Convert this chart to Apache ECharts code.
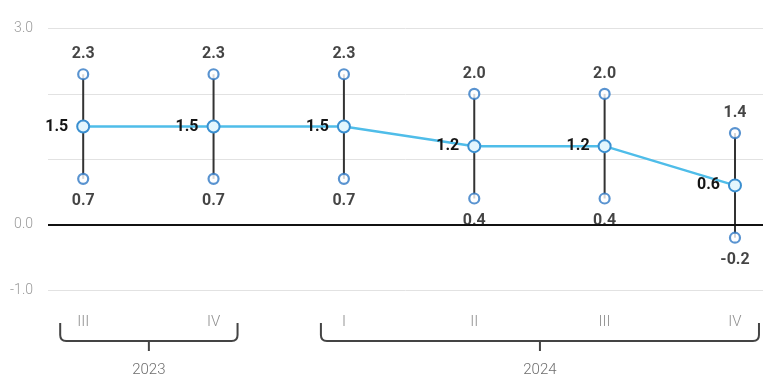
<!DOCTYPE html>
<html>
<head>
<meta charset="utf-8">
<script src="https://cdn.jsdelivr.net/npm/echarts@6/dist/echarts.min.js"></script>
<style>
  html, body { margin: 0; padding: 0; background: #fff; }
  #chart { width: 763px; height: 381px; }
</style>
</head>
<body>
<div id="chart"></div>
<script>
// data
const quarters = ['III', 'IV', 'I', 'II', 'III', 'IV'];
const centerValues = [1.5, 1.5, 1.5, 1.2, 1.2, 0.6];
const highValues = [2.3, 2.3, 2.3, 2.0, 2.0, 1.4];
const lowValues = [0.7, 0.7, 0.7, 0.4, 0.4, -0.2];
const years = ['2023', '2024'];
const yearFirstQuarter = [0, 2];
const yearLastQuarter = [1, 5];
const yTicksShown = [3, 0, -1];

const yMin = -1, yMax = 3;
const chart = echarts.init(document.getElementById('chart'));

const idx = quarters.map((q, i) => i);
const labelStyle = {
    show: true,
    fontFamily: 'Roboto',
    fontWeight: 'bold',
    fontSize: 16,
    color: '#151515',
    formatter: p => p.value[1].toFixed(1)
};
const markerStyle = {
    color: '#ffffff',
    borderColor: '#2f78c4',
    borderWidth: 2.2
};

const option = {
    animation: false,
    backgroundColor: '#fff',
    grid: {left: 48, right: 0, top: 28.5, bottom: 91},
    xAxis: {
        type: 'value',
        min: -0.27,
        max: 5.215,
        show: false
    },
    yAxis: {
        type: 'value',
        min: yMin,
        max: yMax,
        interval: 1,
        axisLine: {show: false},
        axisTick: {show: false},
        splitLine: {lineStyle: {color: '#e2e2e2', width: 1}},
        axisLabel: {
            margin: 15,
            color: '#9a9a9a',
            fontFamily: 'Roboto',
            fontWeight: 300,
            fontSize: 14,
            formatter: v => yTicksShown.includes(v) ? v.toFixed(1) : ''
        }
    },
    series: [
        // error bars
        {
            type: 'custom',
            z: 2,
            silent: true,
            encode: {x: 0, y: [1, 2]},
            data: idx.map(i => [i, lowValues[i], highValues[i]]),
            renderItem: function (params, api) {
                const a = api.coord([api.value(0), api.value(1)]);
                const b = api.coord([api.value(0), api.value(2)]);
                return {
                    type: 'line',
                    shape: {x1: a[0], y1: a[1], x2: b[0], y2: b[1]},
                    style: {stroke: '#333', lineWidth: 2}
                };
            }
        },
        // main line
        {
            type: 'line',
            z: 4,
            data: idx.map(i => [i, centerValues[i]]),
            symbol: 'circle',
            symbolSize: 12,
            lineStyle: {color: '#4fbde9', width: 2.5},
            itemStyle: {color: '#e3f6fd', borderColor: '#3a8fd0', borderWidth: 2},
            label: Object.assign({}, labelStyle, {position: 'left', distance: 8}),
            markLine: {
                silent: true,
                symbol: 'none',
                label: {show: false},
                lineStyle: {color: '#111', width: 2, type: 'solid'},
                data: [{yAxis: 0}]
            }
        },
        // high markers
        {
            type: 'scatter',
            z: 5,
            data: idx.map(i => [i, highValues[i]]),
            symbol: 'circle',
            symbolSize: 10,
            itemStyle: markerStyle,
            label: Object.assign({}, labelStyle, {position: 'top', distance: 6})
        },
        // low markers
        {
            type: 'scatter',
            z: 5,
            data: idx.map(i => [i, lowValues[i]]),
            symbol: 'circle',
            symbolSize: 10,
            itemStyle: markerStyle,
            label: Object.assign({}, labelStyle, {position: 'bottom', distance: 8})
        },
        // quarter labels under the plot
        {
            type: 'custom',
            silent: true,
            clip: false,
            encode: {x: 0},
            data: idx.map(i => [i]),
            renderItem: function (params, api) {
                const p = api.coord([api.value(0), yMin]);
                return {
                    type: 'text',
                    style: {
                        x: p[0], y: p[1] + 32,
                        text: quarters[params.dataIndex],
                        align: 'center', verticalAlign: 'middle',
                        fill: '#8f8f8f', fontSize: 15, fontWeight: 300, fontFamily: 'Roboto'
                    }
                };
            }
        },
        // year braces
        {
            type: 'custom',
            silent: true,
            clip: false,
            encode: {x: [0, 1]},
            data: years.map((y, k) => [yearFirstQuarter[k], yearLastQuarter[k]]),
            renderItem: function (params, api) {
                const a = api.coord([api.value(0), yMin]);
                const b = api.coord([api.value(1), yMin]);
                const x0 = a[0] - 23, x1 = b[0] + 24, yb = a[1] + 51;
                const mid = (x0 + x1) / 2;
                return {
                    type: 'group',
                    children: [
                        {
                            type: 'path',
                            shape: {
                                pathData: 'M' + x0 + ' ' + (yb - 18) + ' L' + x0 + ' ' + (yb - 6) +
                                    ' Q' + x0 + ' ' + yb + ' ' + (x0 + 6) + ' ' + yb +
                                    ' L' + (x1 - 6) + ' ' + yb +
                                    ' Q' + x1 + ' ' + yb + ' ' + x1 + ' ' + (yb - 6) +
                                    ' L' + x1 + ' ' + (yb - 18) +
                                    ' M' + mid + ' ' + yb + ' L' + mid + ' ' + (yb + 10)
                            },
                            style: {stroke: '#444', lineWidth: 2, fill: null}
                        },
                        {
                            type: 'text',
                            style: {
                                x: mid, y: yb + 29,
                                text: years[params.dataIndex],
                                align: 'center', verticalAlign: 'middle',
                                fill: '#6e6e6e', fontSize: 15, fontWeight: 300, fontFamily: 'Roboto'
                            }
                        }
                    ]
                };
            }
        }
    ]
};

option && chart.setOption(option);
</script>
</body>
</html>
